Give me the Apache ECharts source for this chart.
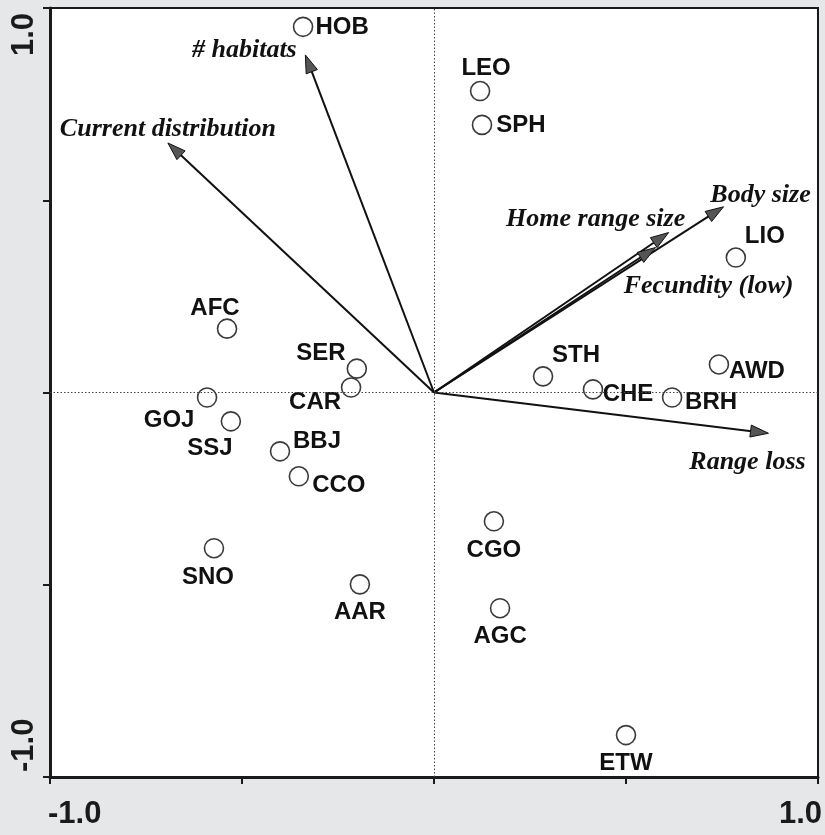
<!DOCTYPE html>
<html>
<head>
<meta charset="utf-8">
<script src="https://cdn.jsdelivr.net/npm/echarts@6/dist/echarts.min.js"></script>
<style>
html,body{margin:0;padding:0;background:#e6e7e8;}
#chart{width:825px;height:835px;}
</style>
</head>
<body>
<div id="chart"></div>
<script>
// Species scores (ordination)
const speciesNames = ['HOB','LEO','SPH','LIO','AFC','SER','CAR','STH','AWD','CHE','BRH','GOJ','SSJ','BBJ','CCO','CGO','SNO','AAR','AGC','ETW'];
const speciesX = [-0.341, 0.120, 0.125, 0.786, -0.539, -0.201, -0.216, 0.284, 0.742, 0.414, 0.620, -0.591, -0.529, -0.401, -0.352, 0.156, -0.573, -0.193, 0.172, 0.500];
const speciesY = [0.951, 0.784, 0.696, 0.351, 0.166, 0.062, 0.013, 0.042, 0.073, 0.008, -0.013, -0.013, -0.075, -0.153, -0.218, -0.335, -0.405, -0.499, -0.561, -0.891];

// Trait vectors
const traitNames = ['# habitats','Current distribution','Body size','Home range size','Fecundity (low)','Range loss'];
const traitX = [-0.335, -0.693, 0.754, 0.611, 0.577, 0.871];
const traitY = [0.878, 0.649, 0.483, 0.416, 0.377, -0.106];

// Axis ticks
const axisMin = -1.0, axisMax = 1.0, axisStep = 0.5;
const tickLabels = ['-1.0', '1.0'];

// Label placement (pixel offsets of label centre from mark) – styling only
const speciesLabelOffset = {
  HOB:[39,1], LEO:[6,-23], SPH:[39,0], LIO:[29,-21], AFC:[-12,-20], SER:[-36,-15],
  CAR:[-36,15], STH:[33,-21], AWD:[38,7], CHE:[35,5], BRH:[39,5], GOJ:[-38,23],
  SSJ:[-21,27], BBJ:[37,-10], CCO:[40,9], CGO:[0,29], SNO:[-6,29], AAR:[0,28],
  AGC:[0,28], ETW:[0,28]
};
const traitLabelOffset = {
  '# habitats':[-61,-5], 'Current distribution':[0,-14], 'Body size':[37,-12],
  'Home range size':[-73,-13], 'Fecundity (low)':[53,39], 'Range loss':[-21,29]
};

const chart = echarts.init(document.getElementById('chart'), null, {renderer:'canvas'});

const speciesData = speciesNames.map((n,i)=>({
  name:n, value:[speciesX[i], speciesY[i]],
  label:{offset: speciesLabelOffset[n]}
}));
const traitData = traitNames.map((n,i)=>[traitX[i], traitY[i], n]);

function fmt(v){
  const s = v.toFixed(1);
  return tickLabels.indexOf(s) >= 0 ? s : '';
}

const axisCommon = {
  type:'value', min:axisMin, max:axisMax, interval:axisStep,
  axisLine:{show:true, onZero:false, lineStyle:{color:'#1a1a1a', width:3}},
  axisTick:{show:true, inside:false, length:7, lineStyle:{color:'#1a1a1a', width:2}},
  splitLine:{show:false},
  axisLabel:{
    formatter:fmt, color:'#1a1a1a', fontFamily:'Liberation Sans, Arial, sans-serif',
    fontWeight:'bold', fontSize:31, showMinLabel:true, showMaxLabel:true
  }
};

chart.setOption({
  backgroundColor:'#e6e7e8',
  animation:false,
  grid:{left:50, right:7, top:8, bottom:58, show:true, backgroundColor:'#ffffff', borderColor:'#1a1a1a', borderWidth:2},
  xAxis:Object.assign({}, axisCommon, {
    axisLabel:Object.assign({}, axisCommon.axisLabel, {margin:22, alignMinLabel:'left', alignMaxLabel:'right', padding:[0,-4,0,-2]})
  }),
  yAxis:Object.assign({}, axisCommon, {
    axisLabel:Object.assign({}, axisCommon.axisLabel, {margin:10, rotate:90, alignMinLabel:'left', alignMaxLabel:'right', padding:[0,5,0,5]})
  }),
  series:[
    {
      type:'line', data:[], silent:true,
      markLine:{
        silent:true, symbol:'none', label:{show:false},
        lineStyle:{type:[1.5,2], color:'#444', width:1},
        data:[{xAxis:0},{yAxis:0}]
      }
    },
    {
      type:'custom', silent:true, z:3,
      data:traitData,
      renderItem:function(params, api){
        const o = api.coord([0,0]);
        const t = api.coord([api.value(0), api.value(1)]);
        const name = traitNames[params.dataIndex];
        const dx=t[0]-o[0], dy=t[1]-o[1];
        const L=Math.hypot(dx,dy), ux=dx/L, uy=dy/L;
        const hl=18, hw=6;
        const bx=t[0]-ux*hl, by=t[1]-uy*hl;
        const p1=[bx-uy*hw, by+ux*hw], p2=[bx+uy*hw, by-ux*hw];
        const off = traitLabelOffset[name];
        return {type:'group', children:[
          {type:'line', shape:{x1:o[0], y1:o[1], x2:bx+ux*3, y2:by+uy*3}, style:{stroke:'#111', lineWidth:2}},
          {type:'polygon', shape:{points:[t,p1,p2]}, style:{fill:'#555', stroke:'#111', lineWidth:1}},
          {type:'text', x:t[0]+off[0], y:t[1]+off[1], style:{
            text:name, fill:'#111', align:'center', verticalAlign:'middle',
            font:'italic bold 26px "Liberation Serif", "Times New Roman", serif'
          }}
        ]};
      }
    },
    {
      type:'scatter', z:4,
      symbol:'circle', symbolSize:19,
      itemStyle:{color:'#ffffff', borderColor:'#3a3a3a', borderWidth:1.6, opacity:1},
      label:{
        show:true, position:'inside', formatter:'{b}', color:'#111',
        textBorderWidth:0, textBorderColor:'transparent',
        fontFamily:'Liberation Sans, Arial, sans-serif', fontWeight:'bold', fontSize:24,
        align:'center', verticalAlign:'middle'
      },
      data:speciesData
    }
  ]
});
</script>
</body>
</html>
